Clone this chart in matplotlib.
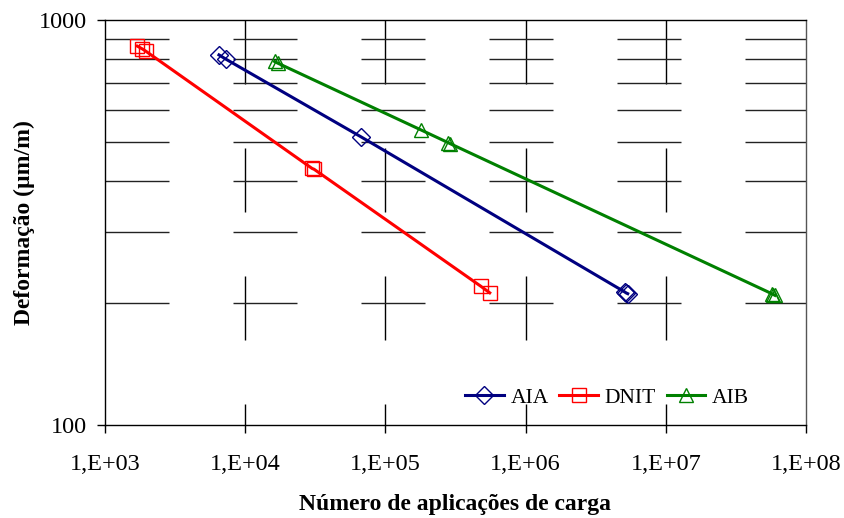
import matplotlib
matplotlib.use("Agg")
import matplotlib.pyplot as plt
from matplotlib.ticker import FixedLocator, FuncFormatter, NullLocator

plt.rcParams['font.family'] = ['Liberation Serif', 'DejaVu Serif']
plt.rcParams['lines.scale_dashes'] = False

# Data
aia_x = [6500, 7300, 67400, 5.1e6, 5.2e6, 5.35e6]
aia_y = [820, 800, 514, 213, 212, 211]
dnit_x = [1700, 1850, 1950, 30000, 31000, 480000, 555000]
dnit_y = [862, 848, 838, 430, 428, 220, 212]
aib_x = [16200, 17000, 180000, 280000, 290000, 5.7e7, 5.85e7, 6.0e7]
aib_y = [790, 783, 535, 498, 495, 211, 210, 209]

series_names = ['AIA', 'DNIT', 'AIB']
series_colors = ['#000080', '#FF0000', '#008000']
series_markers = ['D', 's', '^']

xticks = [1e3, 1e4, 1e5, 1e6, 1e7, 1e8]
xtick_labels = ['1,E+03', '1,E+04', '1,E+05', '1,E+06', '1,E+07', '1,E+08']
yticks = [100, 1000]
ygrid = [200, 300, 400, 500, 600, 700, 800, 900]

fig = plt.figure(figsize=(8.45, 5.18), dpi=100)
ax = fig.add_axes([105/845, 1-425/518, 701/845, 405/518])
ax.set_xscale('log')
ax.set_yscale('log')
ax.set_xlim(1e3, 1e8)
ax.set_ylim(100, 1000)

data = [(aia_x, aia_y), (dnit_x, dnit_y), (aib_x, aib_y)]
msizes = [9.5, 10, 10.5]
for (xs, ys), name, c, m, ms in zip(data, series_names, series_colors, series_markers, msizes):
    ax.plot(xs, ys, color=c, lw=2.2, marker=m, ms=ms, mfc='none', mec=c, mew=1.0,
            label=name, zorder=3)

# grid lines (broken pattern as in the reference)
px = 0.72  # points per pixel at 100 dpi
ax.xaxis.set_major_locator(FixedLocator(xticks))
ax.xaxis.set_major_formatter(FuncFormatter(lambda v, p: xtick_labels[xticks.index(v)] if v in xticks else ''))
ax.xaxis.set_minor_locator(NullLocator())
ax.yaxis.set_major_locator(FixedLocator(yticks))
ax.yaxis.set_major_formatter(FuncFormatter(lambda v, p: '%d' % v))
ax.yaxis.set_minor_locator(FixedLocator(ygrid))
ax.yaxis.set_minor_formatter(FuncFormatter(lambda v, p: ''))

for v in xticks[1:-1]:
    ax.axvline(v, color='black', lw=1.0, linestyle=(43*px, (64*px, 64*px)), zorder=1)
for v in ygrid:
    ax.axhline(v, color='#222222', lw=1.0, linestyle=(0, (64*px, 64*px)), zorder=1)

ax.tick_params(axis='both', which='major', direction='out', length=6, width=1,
               labelsize=17.5, colors='black', pad=7)
ax.tick_params(axis='y', which='minor', length=0)
ax.tick_params(axis='x', which='major', pad=15)

for s in ax.spines.values():
    s.set_color('black')
    s.set_linewidth(1)
ax.spines['right'].set_color('#555555')

ax.set_xlabel('Número de aplicações de carga', fontsize=17, fontweight='bold', labelpad=13.5)
ax.set_ylabel('Deformação (µm/m)', fontsize=17, fontweight='bold', labelpad=3)

leg = ax.legend(loc='center', bbox_to_anchor=(0.716, 0.067), ncol=3, frameon=False,
                fontsize=15.5, handlelength=1.8, handletextpad=0.3, columnspacing=0.5,
                borderpad=0.2)

fig.savefig('out.png', dpi=100)
